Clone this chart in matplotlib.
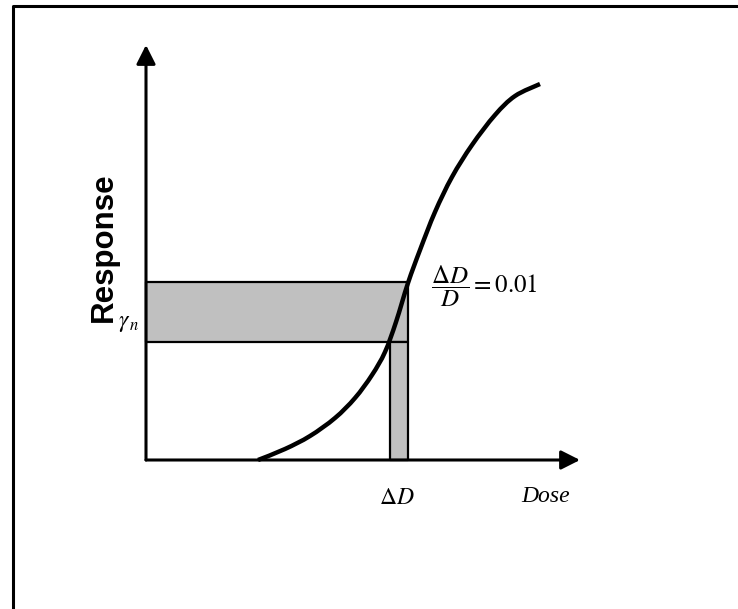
import matplotlib
matplotlib.use("Agg")
import matplotlib.pyplot as plt
from matplotlib.lines import Line2D
from matplotlib.path import Path
from matplotlib.patches import PathPatch

plt.rcParams["mathtext.fontset"] = "stix"

# Dose-response curve (dose, response), origin at the axes corner
dose = [112, 139, 164, 189, 209, 226, 239, 250, 262, 274, 289, 306, 326, 349, 369, 394]
response = [0, 11, 24, 42, 62, 85, 108, 138, 177, 210, 248, 283, 315, 345, 364, 376]

# Response band around gamma_n and the matching dose interval
gamma_low, gamma_high = 118, 178
dose_low, dose_high = 244, 262

# Axis extents
x_axis_end = 434
y_axis_end = 415

W, H = 738, 609
fig = plt.figure(figsize=(W / 100, H / 100), dpi=100)
ax = fig.add_axes([0, 0, 1, 1])
ax.set_xlim(-146, W - 146)
ax.set_ylim(460 - H, 460)
ax.axis("off")

# Page frame (top and left edges)
fig.add_artist(Line2D([13 / W, 13 / W, 1.0], [0.0, 1 - 6 / H, 1 - 6 / H],
                      transform=fig.transFigure, color="black", lw=2.2))

grey = "#c0c0c0"
ax.fill_between([0, dose_high], gamma_low, gamma_high, facecolor=grey,
                edgecolor="black", lw=1.6, zorder=1)
ax.fill_betweenx([0, gamma_low], dose_low, dose_high, facecolor=grey,
                 edgecolor="black", lw=1.6, zorder=1)


def smooth_path(xs, ys):
    """Cubic Bezier path through every point (Catmull-Rom tangents)."""
    pts = list(zip(xs, ys))
    verts = [pts[0]]
    codes = [Path.MOVETO]
    n = len(pts)
    for i in range(n - 1):
        p0 = pts[i - 1] if i > 0 else pts[i]
        p1, p2 = pts[i], pts[i + 1]
        p3 = pts[i + 2] if i + 2 < n else pts[i + 1]
        c1 = (p1[0] + (p2[0] - p0[0]) / 6, p1[1] + (p2[1] - p0[1]) / 6)
        c2 = (p2[0] - (p3[0] - p1[0]) / 6, p2[1] - (p3[1] - p1[1]) / 6)
        verts += [c1, c2, p2]
        codes += [Path.CURVE4] * 3
    return Path(verts, codes)


ax.add_patch(PathPatch(smooth_path(dose, response), facecolor="none",
                       edgecolor="black", lw=3.2, capstyle="butt", zorder=3))

arrow = dict(arrowstyle="-|>,head_length=11.5,head_width=5.8",
             mutation_scale=1, lw=2.2, color="black", shrinkA=0, shrinkB=0)
ax.annotate("", xy=(0, y_axis_end), xytext=(0, 0), arrowprops=arrow, zorder=4)
ax.annotate("", xy=(x_axis_end, 0), xytext=(0, 0), arrowprops=arrow, zorder=4)

ax.text(-42, 213, "Response", rotation=90, ha="center", va="center",
        fontsize=22.5, fontweight="bold", family="Liberation Sans")
ax.text(-17, 138, r"$\gamma_{\,n}$", ha="center", va="center", fontsize=17)
ax.text(285, 174, r"$\dfrac{\Delta D}{D} = 0.01$", ha="left", va="center",
        fontsize=18)
ax.text(251, -37, r"$\Delta D$", ha="center", va="center", fontsize=17)
ax.text(400, -37, "Dose", ha="center", va="center", fontsize=17,
        style="italic", family="Liberation Serif")

fig.savefig("out.png", dpi=100)
